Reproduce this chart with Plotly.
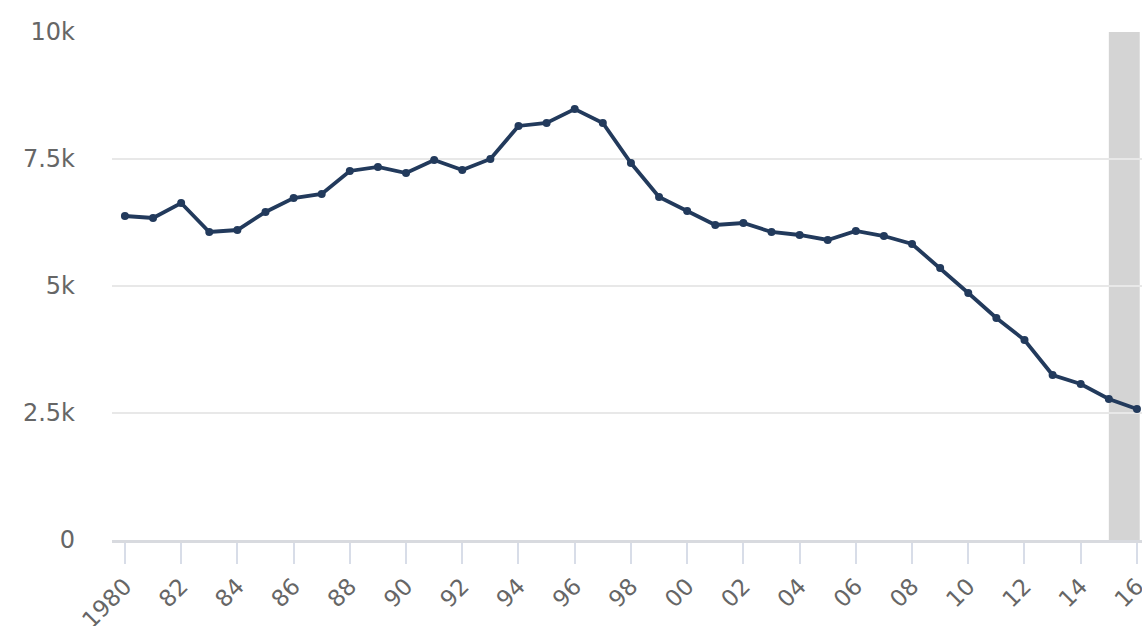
import plotly.graph_objects as go

years = list(range(1980, 2017))
values = [6378, 6339, 6634, 6063, 6102, 6457, 6732, 6811, 7264, 7343,
          7224, 7480, 7283, 7500, 8150, 8209, 8484, 8209, 7421, 6752,
          6476, 6201, 6240, 6063, 6004, 5906, 6083, 5984, 5827, 5354,
          4862, 4370, 3937, 3248, 3071, 2776, 2579]

x_tickvals = list(range(1980, 2017, 2))
x_ticktext = ["1980", "82", "84", "86", "88", "90", "92", "94", "96", "98",
              "00", "02", "04", "06", "08", "10", "12", "14", "16"]
y_tickvals = [0, 2500, 5000, 7500, 10000]
y_ticktext = ["0", "2.5k", "5k", "7.5k", "10k"]

band_start, band_end = 2015, 2016.1

fig = go.Figure()
fig.add_trace(go.Scatter(
    x=years, y=values, mode="lines+markers",
    line=dict(color="#223a5c", width=3.8),
    marker=dict(color="#223a5c", size=8),
    hoverinfo="skip", showlegend=False,
))

fig.add_shape(type="rect", xref="x", yref="y",
              x0=band_start, x1=band_end, y0=0, y1=10000,
              fillcolor="#d4d4d4", line=dict(width=0), layer="below")

fig.update_layout(
    width=1142, height=626,
    margin=dict(l=112, r=0, t=32, b=86),
    plot_bgcolor="white", paper_bgcolor="white",
    font=dict(family="DejaVu Sans", color="#666666"),
)
fig.update_xaxes(
    range=[1979.54, 2016.18], automargin=False,
    tickmode="array", tickvals=x_tickvals, ticktext=x_ticktext,
    tickangle=-45, tickfont=dict(size=23, color="#666666"),
    ticklabeloverflow="allow",
    ticks="outside", ticklen=21, tickwidth=1.5, tickcolor="#d8dde8",
    showgrid=False, zeroline=False,
    showline=True, linecolor="#d8dadf", linewidth=2.5,
)
fig.update_yaxes(
    range=[0, 10000], automargin=False,
    tickmode="array", tickvals=y_tickvals, ticktext=y_ticktext,
    tickfont=dict(size=24, color="#666666"),
    showgrid=True, gridcolor="#e8e8e8", gridwidth=1.5,
    zeroline=False, showline=False,
    ticklabelstandoff=36,
)

fig.write_html(
    "out.html",
    config={"displayModeBar": False},
    post_script="document.body.style.margin='0';document.body.style.overflow='hidden';",
)
